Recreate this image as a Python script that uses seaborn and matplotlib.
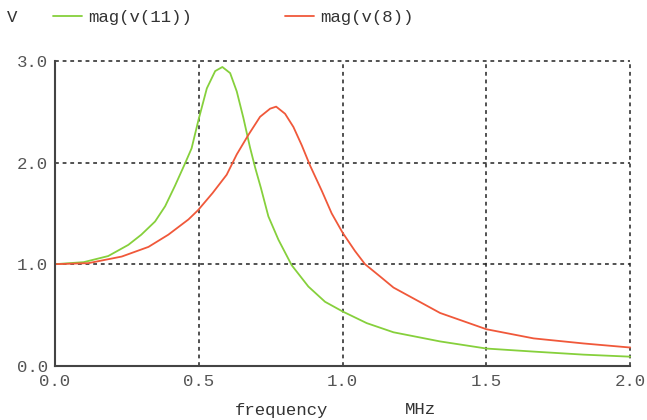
import pandas as pd
import numpy as np
import matplotlib
matplotlib.use('Agg')
import matplotlib.pyplot as plt
from matplotlib.lines import Line2D
import seaborn as sns

# values (frequency in MHz, magnitude in V)
freq_v11 = [0.0, 0.1, 0.185, 0.255, 0.30, 0.348, 0.383, 0.417, 0.452, 0.475, 0.499,
            0.528, 0.557, 0.582, 0.609, 0.632, 0.655, 0.678, 0.696, 0.716, 0.742,
            0.777, 0.823, 0.881, 0.939, 1.0, 1.084, 1.177, 1.339, 1.5, 1.664,
            1.838, 2.0]
mag_v11 = [1.0, 1.02, 1.08, 1.19, 1.29, 1.42, 1.57, 1.77, 1.99, 2.14, 2.42,
           2.73, 2.90, 2.94, 2.88, 2.70, 2.44, 2.15, 1.95, 1.75, 1.47,
           1.24, 0.99, 0.78, 0.63, 0.535, 0.42, 0.33, 0.24, 0.17, 0.14,
           0.11, 0.09]

freq_v8 = [0.0, 0.116, 0.232, 0.325, 0.394, 0.464, 0.497, 0.548, 0.597, 0.632,
           0.672, 0.713, 0.748, 0.769, 0.80, 0.829, 0.858, 0.887, 0.928, 0.962,
           1.0, 1.043, 1.078, 1.13, 1.177, 1.339, 1.5, 1.664, 1.838, 2.0]
mag_v8 = [1.0, 1.01, 1.075, 1.17, 1.29, 1.44, 1.53, 1.70, 1.88, 2.08,
          2.27, 2.45, 2.53, 2.55, 2.48, 2.35, 2.17, 1.97, 1.72, 1.50,
          1.31, 1.13, 1.0, 0.88, 0.77, 0.52, 0.36, 0.27, 0.22, 0.18]

series_names = ['mag(v(11))', 'mag(v(8))']
colors = ['#86d03c', '#f0583a']
xticks = [0.0, 0.5, 1.0, 1.5, 2.0]
yticks = [0.0, 1.0, 2.0, 3.0]

df = pd.concat([
    pd.DataFrame({'freq': freq_v11, 'mag': mag_v11, 'trace': series_names[0]}),
    pd.DataFrame({'freq': freq_v8, 'mag': mag_v8, 'trace': series_names[1]}),
])

sns.set_style('white')
plt.rcParams['font.family'] = ['Liberation Mono', 'DejaVu Sans Mono']
fs = 12.5

fig = plt.figure(figsize=(6.47, 4.2), dpi=100)
ax = fig.add_axes([0.085, 0.129, 0.889, 0.726])

g = sns.lineplot(data=df, x='freq', y='mag', hue='trace', palette=colors,
                 hue_order=series_names, estimator=None, sort=True,
                 linewidth=1.3, ax=ax, legend=False)

ax.set_xlim(0, 2.0)
ax.set_ylim(0, 3.0)
ax.set_xticks(xticks)
ax.set_yticks(yticks)
ax.set_xticklabels([f'{v:.1f}' for v in xticks])
ax.set_yticklabels([f'{v:.1f}' for v in yticks])
ax.tick_params(axis='both', labelsize=fs, labelcolor='#555555', colors='#444444')
ax.tick_params(axis='x', length=2, direction='in', pad=6)
ax.tick_params(axis='y', length=0, pad=5)

for s in ['top', 'right']:
    ax.spines[s].set_visible(False)
for s in ['left', 'bottom']:
    ax.spines[s].set_color('#444444')
    ax.spines[s].set_linewidth(1.5)

for y in yticks[1:]:
    ax.axhline(y, color='#222222', linestyle=(0, (2.5, 2.5)), linewidth=1.1, zorder=0, clip_on=False)
for x in xticks[1:]:
    ax.axvline(x, color='#222222', linestyle=(0, (2.5, 2.5)), linewidth=1.1, zorder=0, clip_on=False)

for line in ax.lines:
    line.set_clip_on(False)

ax.set_xlabel('')
ax.set_ylabel('')
fig.text(282 / 647, 1 - 410 / 420, 'frequency', ha='center', va='center', fontsize=fs, color='#333333')
fig.text(420 / 647, 1 - 410 / 420, 'MHz', ha='center', va='center', fontsize=fs, color='#333333')
fig.text(12 / 647, 1 - 17 / 420, 'V', ha='center', va='center', fontsize=fs, color='#333333')

# legend at top, like the simulator header
handles = [Line2D([], [], color=c, linewidth=1.3) for c in colors]
fig.legend(handles, series_names, loc='center left', bbox_to_anchor=(53 / 647, 1 - 17 / 420),
           ncol=2, frameon=False, fontsize=fs, handlelength=1.67, handletextpad=0.35,
           columnspacing=5.36, labelcolor='#333333', borderpad=0, borderaxespad=0)

plt.savefig('out.png', dpi=100)
